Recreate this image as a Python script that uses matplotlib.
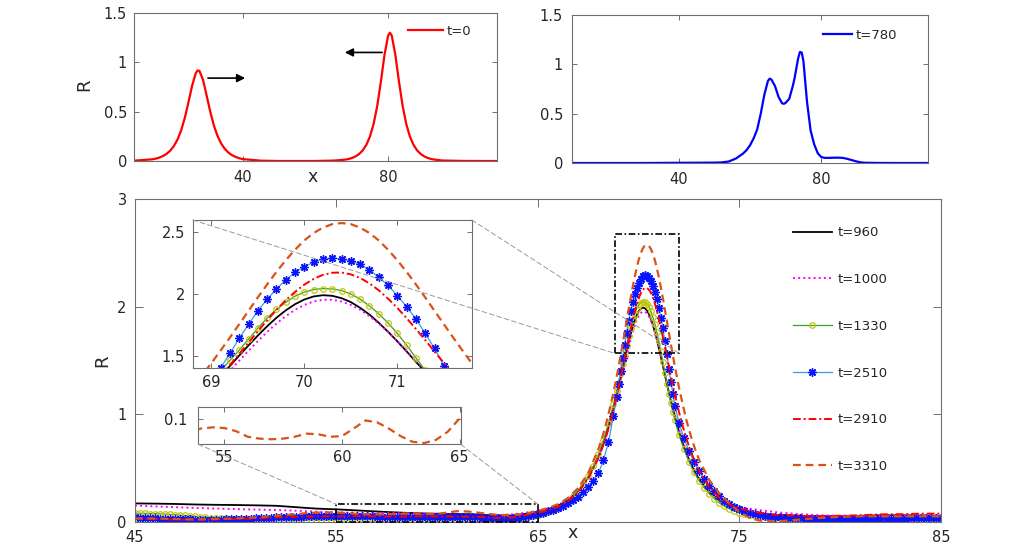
import numpy as np
import matplotlib
matplotlib.use('Agg')
import matplotlib.pyplot as plt
from matplotlib.patches import Rectangle, ConnectionPatch
from matplotlib.ticker import FuncFormatter

plt.rcParams['font.family'] = ['DejaVu Sans']

# ---------------- data: top-left panel (t=0) ----------------
x_t0 = [10, 15, 16, 17, 18, 19, 20, 21, 22, 23, 24, 25, 26, 27, 27.5, 28, 29, 30, 31, 32,
        33, 34, 35, 36, 37, 38, 39, 40, 45, 50, 55, 60, 65, 68, 69, 70, 71, 72, 73, 74,
        75, 76, 77, 78, 79, 80, 80.5, 81, 82, 83, 84, 85, 86, 87, 88, 89, 90, 91, 92, 93,
        95, 100, 105, 110]
R_t0 = [0.003, 0.017, 0.024, 0.035, 0.051, 0.073, 0.106, 0.153, 0.219, 0.313, 0.439, 0.596,
        0.763, 0.890, 0.917, 0.914, 0.823, 0.664, 0.499, 0.359, 0.254, 0.177, 0.123, 0.085,
        0.059, 0.041, 0.028, 0.019, 0.003, 0.0, 0.0, 0.0, 0.004, 0.013, 0.019, 0.030, 0.046,
        0.070, 0.107, 0.163, 0.248, 0.375, 0.558, 0.802, 1.074, 1.271, 1.300, 1.271, 1.074,
        0.802, 0.558, 0.375, 0.248, 0.163, 0.107, 0.070, 0.046, 0.030, 0.019, 0.013, 0.005,
        0.001, 0.0, 0.0]

# ---------------- data: top-right panel (t=780) ----------------
x_t780 = [10, 20, 30, 40, 45, 50, 52, 54, 56, 58, 59, 60, 61, 62, 63, 64, 65, 65.5, 66, 67,
          68, 69, 69.5, 70, 71, 72, 72.5, 73, 73.5, 74, 74.5, 75, 75.5, 76, 77, 78, 79, 80,
          81, 82, 83, 84, 85, 86, 87, 88, 89, 90, 91, 92, 95, 100, 110]
R_t780 = [0, 0, 0, 0.002, 0.003, 0.004, 0.006, 0.015, 0.045, 0.095, 0.13, 0.18, 0.25, 0.34,
          0.50, 0.69, 0.83, 0.855, 0.845, 0.78, 0.67, 0.605, 0.60, 0.61, 0.65, 0.78, 0.86,
          0.96, 1.06, 1.125, 1.12, 1.03, 0.82, 0.62, 0.33, 0.19, 0.10, 0.06, 0.052, 0.052,
          0.053, 0.054, 0.054, 0.052, 0.045, 0.035, 0.025, 0.015, 0.007, 0.003, 0.001, 0, 0]

# ---------------- data: main panel ----------------
# sampling grid of the line-only curves
x_main = np.round(np.concatenate([
    np.arange(45, 53.01, 1.0),
    np.arange(53.5, 68.01, 0.5),
    np.array([68.2, 68.4, 68.6]),
    np.arange(68.8, 71.801, 0.1),
    np.arange(72.0, 73.01, 0.2),
    np.arange(73.5, 76.01, 0.5),
    np.arange(77, 85.01, 1.0)]), 2)
# denser sampling grid of the two marker curves
x_dense = np.round(np.concatenate([
    np.arange(45, 68.76, 0.25),
    np.arange(68.9, 71.801, 0.1),
    np.arange(72.0, 85.01, 0.25)]), 2)

R_960 = [
    0.170, 0.168, 0.165, 0.160, 0.157, 0.155, 0.152, 0.148, 0.135,
    0.128, 0.122, 0.118, 0.115, 0.110, 0.105, 0.100, 0.095, 0.090, 0.086,
    0.082, 0.079, 0.076, 0.074, 0.072, 0.071, 0.070, 0.067, 0.062, 0.058,
    0.056, 0.062, 0.077, 0.091, 0.114, 0.149, 0.203, 0.285, 0.412, 0.602,
    0.701, 0.815, 0.945,
    1.090, 1.169, 1.249, 1.332, 1.416, 1.501, 1.583, 1.663, 1.738, 1.807,
    1.867, 1.917, 1.955, 1.980, 1.990, 1.985, 1.966, 1.934, 1.888, 1.833,
    1.767, 1.694, 1.616, 1.534, 1.450, 1.366, 1.282, 1.201, 1.121, 1.046, 0.973,
    0.840, 0.722, 0.620, 0.534, 0.458, 0.393,
    0.274, 0.195, 0.150, 0.115, 0.090, 0.075,
    0.062, 0.055, 0.050, 0.050, 0.055, 0.060, 0.060, 0.057, 0.055]

R_1000 = [
    0.150, 0.142, 0.135, 0.128, 0.122, 0.117, 0.113, 0.109, 0.102,
    0.098, 0.094, 0.090, 0.087, 0.085, 0.084, 0.083, 0.082, 0.081, 0.080,
    0.078, 0.076, 0.073, 0.070, 0.068, 0.065, 0.062, 0.058, 0.057, 0.060,
    0.065, 0.074, 0.087, 0.101, 0.123, 0.157, 0.209, 0.289, 0.412, 0.594,
    0.690, 0.799, 0.924,
    1.063, 1.138, 1.216, 1.296, 1.378, 1.459, 1.539, 1.618, 1.692, 1.760,
    1.820, 1.872, 1.911, 1.939, 1.953, 1.953, 1.939, 1.911, 1.872, 1.820,
    1.760, 1.692, 1.618, 1.539, 1.459, 1.378, 1.296, 1.216, 1.138, 1.063, 0.992,
    0.859, 0.742, 0.640, 0.552, 0.476, 0.412,
    0.289, 0.209, 0.167, 0.138, 0.121, 0.107,
    0.085, 0.070, 0.060, 0.055, 0.052, 0.055, 0.058, 0.060, 0.060]

R_1330 = [
    0.080, 0.079, 0.078, 0.076, 0.075, 0.073, 0.070, 0.068, 0.065, 0.061,
    0.058, 0.054, 0.050, 0.046, 0.043, 0.039, 0.036, 0.033, 0.031, 0.028,
    0.026, 0.024, 0.023, 0.021, 0.020, 0.019, 0.019, 0.018, 0.018, 0.017,
    0.016, 0.016, 0.015,
    0.015, 0.015, 0.015, 0.015, 0.016, 0.017, 0.018, 0.020, 0.020, 0.021,
    0.021, 0.022, 0.023, 0.024, 0.025, 0.026, 0.027, 0.028, 0.029, 0.030,
    0.030, 0.031, 0.031, 0.031, 0.030, 0.030, 0.030, 0.030, 0.030, 0.030,
    0.030, 0.030, 0.029, 0.028, 0.026, 0.025, 0.023, 0.022, 0.021, 0.020,
    0.021, 0.022, 0.025, 0.030, 0.037, 0.045, 0.054, 0.065, 0.078, 0.093,
    0.110, 0.132, 0.160, 0.196, 0.238, 0.290, 0.350, 0.424, 0.515, 0.625,
    0.758, 0.913, 1.094,
    1.212, 1.294, 1.378, 1.463, 1.545, 1.633, 1.722, 1.805, 1.875, 1.932,
    1.982, 2.015, 2.036, 2.044, 2.041, 2.027, 2.000, 1.958, 1.903, 1.840,
    1.765, 1.680, 1.585, 1.482, 1.380, 1.282, 1.190, 1.102, 1.020, 0.945,
    0.810, 0.672, 0.557, 0.458, 0.380, 0.315, 0.260, 0.214, 0.175, 0.145,
    0.120, 0.101, 0.085, 0.072, 0.060, 0.052, 0.045, 0.041, 0.037, 0.033,
    0.030, 0.029, 0.027, 0.026, 0.025, 0.024, 0.022, 0.021, 0.020, 0.020,
    0.020, 0.020, 0.020, 0.020, 0.020, 0.020, 0.020, 0.021, 0.022, 0.023,
    0.024, 0.025, 0.026, 0.027, 0.028, 0.029, 0.030, 0.030, 0.030, 0.030,
    0.030, 0.030, 0.030]

R_2510 = [
    0.040, 0.038, 0.036, 0.034, 0.031, 0.029, 0.027, 0.026, 0.025, 0.023,
    0.022, 0.021, 0.020, 0.020, 0.019, 0.019, 0.020, 0.020, 0.021, 0.021,
    0.022, 0.024, 0.026, 0.028, 0.030, 0.033, 0.035, 0.038, 0.040, 0.042,
    0.044, 0.046, 0.047,
    0.048, 0.049, 0.050, 0.050, 0.050, 0.050, 0.050, 0.050, 0.050, 0.050,
    0.050, 0.050, 0.050, 0.049, 0.049, 0.048, 0.048, 0.047, 0.046, 0.045,
    0.045, 0.045, 0.045, 0.045, 0.045, 0.045, 0.045, 0.045, 0.045, 0.044,
    0.043, 0.042, 0.042, 0.041, 0.041, 0.040, 0.038, 0.036, 0.033, 0.030,
    0.029, 0.028, 0.031, 0.035, 0.045, 0.055, 0.063, 0.072, 0.083, 0.095,
    0.110, 0.125, 0.146, 0.170, 0.198, 0.230, 0.272, 0.320, 0.380, 0.450,
    0.570, 0.740, 0.985,
    1.160, 1.280, 1.400, 1.518, 1.640, 1.753, 1.865, 1.957, 2.040, 2.114,
    2.176, 2.222, 2.257, 2.282, 2.290, 2.285, 2.268, 2.241, 2.195, 2.135,
    2.070, 1.986, 1.897, 1.797, 1.680, 1.558, 1.420, 1.300, 1.190, 1.080,
    0.920, 0.775, 0.655, 0.555, 0.470, 0.400, 0.335, 0.282, 0.235, 0.197,
    0.165, 0.138, 0.115, 0.096, 0.080, 0.068, 0.058, 0.052, 0.047, 0.043,
    0.040, 0.037, 0.034, 0.032, 0.030, 0.028, 0.027, 0.026, 0.025, 0.025,
    0.025, 0.025, 0.025, 0.025, 0.025, 0.025, 0.025, 0.025, 0.025, 0.025,
    0.025, 0.026, 0.026, 0.027, 0.028, 0.029, 0.030, 0.030, 0.030, 0.030,
    0.030, 0.030, 0.030]

R_2910 = [
    0.030, 0.025, 0.020, 0.020, 0.022, 0.025, 0.030, 0.040, 0.045,
    0.048, 0.050, 0.050, 0.050, 0.051, 0.052, 0.051, 0.050, 0.049, 0.048,
    0.049, 0.050, 0.050, 0.050, 0.049, 0.048, 0.047, 0.045, 0.040, 0.035,
    0.035, 0.045, 0.067, 0.082, 0.105, 0.140, 0.193, 0.276, 0.401, 0.590,
    0.688, 0.802, 0.934,
    1.082, 1.162, 1.246, 1.334, 1.424, 1.515, 1.607, 1.698, 1.787, 1.871,
    1.949, 2.017, 2.076, 2.122, 2.155, 2.172, 2.174, 2.159, 2.130, 2.086,
    2.030, 1.962, 1.887, 1.804, 1.716, 1.626, 1.533, 1.442, 1.352, 1.264, 1.179,
    1.020, 0.879, 0.755, 0.647, 0.554, 0.474,
    0.325, 0.225, 0.160, 0.123, 0.101, 0.083,
    0.060, 0.055, 0.050, 0.055, 0.060, 0.068, 0.070, 0.075, 0.075]

R_3310 = [
    0.030, 0.030, 0.025, 0.020, 0.025, 0.030, 0.040, 0.055, 0.070,
    0.080, 0.085, 0.087, 0.086, 0.081, 0.072, 0.069, 0.068, 0.069, 0.072,
    0.077, 0.076, 0.072, 0.073, 0.085, 0.098, 0.095, 0.085, 0.073, 0.064,
    0.062, 0.067, 0.080, 0.101, 0.127, 0.163, 0.222, 0.313, 0.455, 0.675,
    0.789, 0.922, 1.078,
    1.247, 1.342, 1.439, 1.542, 1.647, 1.755, 1.863, 1.972, 2.077, 2.179,
    2.273, 2.359, 2.434, 2.494, 2.538, 2.566, 2.575, 2.566, 2.538, 2.494,
    2.434, 2.359, 2.273, 2.179, 2.077, 1.972, 1.863, 1.755, 1.647, 1.542, 1.439,
    1.247, 1.078, 0.922, 0.789, 0.675, 0.575,
    0.388, 0.264, 0.170, 0.090, 0.035, 0.010,
    0.005, 0.020, 0.035, 0.045, 0.050, 0.050, 0.050, 0.050, 0.050]

labels = ['t=960', 't=1000', 't=1330', 't=2510', 't=2910', 't=3310']
series = [(x_main, R_960), (x_main, R_1000), (x_dense, R_1330),
          (x_dense, R_2510), (x_main, R_2910), (x_main, R_3310)]

top_xticks = [40, 80]
top_yticks = [0, 0.5, 1, 1.5]
main_xticks = [45, 55, 65, 75, 85]
main_yticks = [0, 1, 2, 3]
in1_xticks = [69, 70, 71]
in1_yticks = [1.5, 2, 2.5]
in2_xticks = [55, 60, 65]
in2_yticks = [0.1]

# ---------------- styles ----------------
styles = [
    dict(color='k', lw=1.3, ls='-'),
    dict(color='#ff00ff', lw=1.4, ls=':'),
    dict(color='#3a9e2a', lw=0.9, ls='-', marker='o', mfc='none', mec='#c4c40a', ms=4, mew=0.9),
    dict(color='#3f9ae0', lw=0.9, ls='-', marker=(8, 2, 0), mec='#0a14ff', mfc='#0a14ff', ms=6, mew=1.0),
    dict(color='#ff0000', lw=1.4, ls=(0, (4, 1.5, 1, 1.5))),
    dict(color='#D95319', lw=1.6, ls=(0, (3.5, 2.2))),
]

SPINE = '#6e6e6e'
TXT = '#262626'
FS = 10.5
fmt = FuncFormatter(lambda v, p: '%g' % v)


def style_axes(ax, ticklen=3.5, xpad=4, ypad=4):
    for s in ax.spines.values():
        s.set_color(SPINE)
        s.set_linewidth(0.8)
    ax.tick_params(direction='in', top=True, right=True, length=ticklen, width=0.7,
                   color=SPINE, labelcolor=TXT, labelsize=FS)
    ax.tick_params(axis='x', pad=xpad)
    ax.tick_params(axis='y', pad=ypad)
    ax.xaxis.set_major_formatter(fmt)
    ax.yaxis.set_major_formatter(fmt)


fig = plt.figure(figsize=(10.35, 5.45), dpi=100)

# ---- top-left
ax1 = fig.add_axes([0.1295, 0.7046, 0.3507, 0.2716])
ax1.plot(x_t0, R_t0, color='#ff0000', lw=1.6, label='t=0')
ax1.set_xlim(10, 110)
ax1.set_ylim(0, 1.5)
ax1.set_xticks(top_xticks)
ax1.set_yticks(top_yticks)
style_axes(ax1, xpad=6.5, ypad=5)
ax1.set_ylabel('R', fontsize=13, color=TXT, va='center')
ax1.yaxis.set_label_coords(-0.136, 0.514)
ax1.set_xlabel('x', fontsize=12.5, color=TXT, va='center')
ax1.xaxis.set_label_coords(0.493, -0.108)
ax1.annotate('', xy=(41.4, 0.84), xytext=(29.6, 0.84),
             arrowprops=dict(arrowstyle='-|>', color='k', lw=1.2, mutation_scale=12))
ax1.annotate('', xy=(67.3, 1.10), xytext=(79.1, 1.10),
             arrowprops=dict(arrowstyle='-|>', color='k', lw=1.2, mutation_scale=12))
ax1.legend(loc='upper left', bbox_to_anchor=(0.394, 0.954), bbox_transform=fig.transFigure,
           frameon=False, borderpad=0, borderaxespad=0, handlelength=2.65,
           handletextpad=0.3, fontsize=9.5, labelcolor=TXT)

# ---- top-right
ax2 = fig.add_axes([0.5527, 0.7009, 0.344, 0.2716])
ax2.plot(x_t780, R_t780, color='#0000ff', lw=1.6, label='t=780')
ax2.set_xlim(10, 110)
ax2.set_ylim(0, 1.5)
ax2.set_xticks(top_xticks)
ax2.set_yticks(top_yticks)
style_axes(ax2, xpad=6.5, ypad=6.5)
ax2.legend(loc='upper left', bbox_to_anchor=(0.7952, 0.947), bbox_transform=fig.transFigure,
           frameon=False, borderpad=0, borderaxespad=0, handlelength=2.2,
           handletextpad=0.25, fontsize=9.5, labelcolor=TXT)

# ---- main
ax = fig.add_axes([0.1304, 0.04275, 0.7787, 0.5921])
for (xs, R), lab, st in zip(series, labels, styles):
    ax.plot(xs, R, label=lab, **st)
ax.set_xlim(45, 85)
ax.set_ylim(0, 3)
ax.set_xticks(main_xticks)
ax.set_yticks(main_yticks)
style_axes(ax, ticklen=6, xpad=5.8, ypad=6)
ax.set_ylabel('R', fontsize=13, color=TXT, va='center')
ax.yaxis.set_label_coords(-0.04, 0.5)
ax.set_xlabel('x', fontsize=12.5, color=TXT, va='center')
ax.xaxis.set_label_coords(0.543, -0.035)
ax.add_patch(Rectangle((68.81, 1.565), 3.19, 1.106, fill=False, ec='k', lw=1.2,
                       ls=(0, (4, 1.5, 1, 1.5)), zorder=5))
ax.add_patch(Rectangle((55, 0.0), 10, 0.162, fill=False, ec='k', lw=1.2,
                       ls=(0, (4, 1.5, 1, 1.5)), zorder=5, clip_on=False))
ax.legend(loc='upper left', bbox_to_anchor=(0.7662, 0.585), bbox_transform=fig.transFigure,
          frameon=False, borderpad=0, borderaxespad=0, handlelength=2.95,
          handletextpad=0.4, labelspacing=2.56, fontsize=9.5, labelcolor=TXT)

# ---- upper inset
ain1 = fig.add_axes([0.1862, 0.3248, 0.2696, 0.2716])
for (xs, R), st in zip(series, styles):
    ain1.plot(xs, R, **st)
ain1.set_xlim(68.8, 71.8)
ain1.set_ylim(1.4, 2.6)
ain1.set_xticks(in1_xticks)
ain1.set_yticks(in1_yticks)
style_axes(ain1, ticklen=3.5, xpad=5, ypad=5.5)

# ---- lower inset (t=3310 only)
ain2 = fig.add_axes([0.1916, 0.1848, 0.2535, 0.069])
ain2.plot(x_main, R_3310, **styles[5])
ain2.set_xlim(53.9, 65.05)
ain2.set_ylim(0.06, 0.12)
ain2.set_xticks(in2_xticks)
ain2.set_yticks(in2_yticks)
style_axes(ain2, ticklen=3.5, xpad=4, ypad=8)

# ---- connector lines
cl = dict(color='#9a9a9a', lw=0.7, ls=(0, (5, 3)))
for xa, xb in [((0, 1), (68.81, 1.565)), ((1, 1), (72.0, 1.565))]:
    fig.add_artist(ConnectionPatch(xyA=xa, coordsA=ain1.transAxes, xyB=xb,
                                   coordsB=ax.transData, **cl))
for xa, xb in [((0, 0), (55, 0.162)), ((1, 0), (65, 0.162))]:
    fig.add_artist(ConnectionPatch(xyA=xa, coordsA=ain2.transAxes, xyB=xb,
                                   coordsB=ax.transData, **cl))

fig.savefig('out.png', dpi=100)
